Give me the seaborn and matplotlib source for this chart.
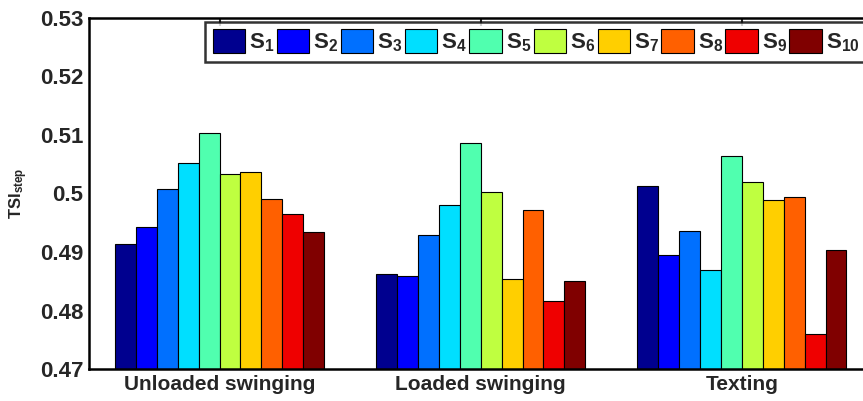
import pandas as pd
import matplotlib
matplotlib.use('Agg')
import matplotlib.pyplot as plt
import seaborn as sns

# Values
activities = ['Unloaded swinging', 'Loaded swinging', 'Texting']
subjects = ['S1', 'S2', 'S3', 'S4', 'S5', 'S6', 'S7', 'S8', 'S9', 'S10']
unloaded = [0.4914, 0.4942, 0.5008, 0.5052, 0.5104, 0.5033, 0.5036, 0.4991, 0.4965, 0.4934]
loaded = [0.4862, 0.4859, 0.4930, 0.4981, 0.5086, 0.5003, 0.4854, 0.4971, 0.4817, 0.4851]
texting = [0.5012, 0.4895, 0.4936, 0.4869, 0.5064, 0.5019, 0.4989, 0.4994, 0.4760, 0.4904]
jet_colors = ['#00008F', '#0000FF', '#0070FF', '#00DFFF', '#50FFAF',
              '#BFFF40', '#FFCF00', '#FF6000', '#EF0000', '#800000']

rows = []
for act, vals in zip(activities, [unloaded, loaded, texting]):
    for subj, v in zip(subjects, vals):
        rows.append({'activity': act, 'subject': subj, 'tsi': v})
df = pd.DataFrame(rows)

sns.set_style('white')
plt.rcParams['font.family'] = ['Liberation Sans', 'DejaVu Sans']
plt.rcParams['font.weight'] = 'bold'
plt.rcParams['mathtext.fontset'] = 'custom'
plt.rcParams['mathtext.bf'] = 'Liberation Sans:bold'
plt.rcParams['mathtext.rm'] = 'Liberation Sans:bold'
plt.rcParams['mathtext.it'] = 'Liberation Sans:bold'
plt.rcParams['mathtext.default'] = 'bf'

fig = plt.figure(figsize=(8.63, 4.01), dpi=100)
ax = fig.add_axes([0.1031, 0.079, 0.908, 0.877])

sns.barplot(data=df, x='activity', y='tsi', hue='subject', palette=jet_colors,
            saturation=1, edgecolor='black', linewidth=0.8, width=0.8, ax=ax,
            errorbar=None)

ax.set_ylim(0.47, 0.53)
ax.set_xlim(-0.5, 2.5)
ax.set_yticks([0.47, 0.48, 0.49, 0.5, 0.51, 0.52, 0.53])
ax.set_yticklabels(['0.47', '0.48', '0.49', '0.5', '0.51', '0.52', '0.53'])
ax.tick_params(axis='both', direction='in', top=True, right=True, length=6,
               width=1.5, pad=4)
ax.tick_params(axis='y', labelsize=16)
ax.tick_params(axis='x', labelsize=15)
for lbl in ax.get_xticklabels() + ax.get_yticklabels():
    lbl.set_fontweight('bold')
ax.set_xlabel('')
ax.set_ylabel(r'TSI$_{step}$', fontsize=12, fontweight='bold', labelpad=7)
for sp in ax.spines.values():
    sp.set_linewidth(1.8)
    sp.set_color('black')

handles, labels = ax.get_legend_handles_labels()
ax.get_legend().remove()
leg = fig.legend(handles, ['$S_{%s}$' % s[1:] for s in labels], ncol=10,
                 loc='upper left', bbox_to_anchor=(0.2375, 0.946),
                 bbox_transform=fig.transFigure, borderaxespad=0,
                 fontsize=16, handlelength=1.45, handleheight=1.27,
                 handletextpad=0.18, columnspacing=0.12, borderpad=0.35,
                 frameon=True, fancybox=False, edgecolor='black')
leg.get_frame().set_linewidth(1.8)

fig.savefig('out.png', dpi=100)
